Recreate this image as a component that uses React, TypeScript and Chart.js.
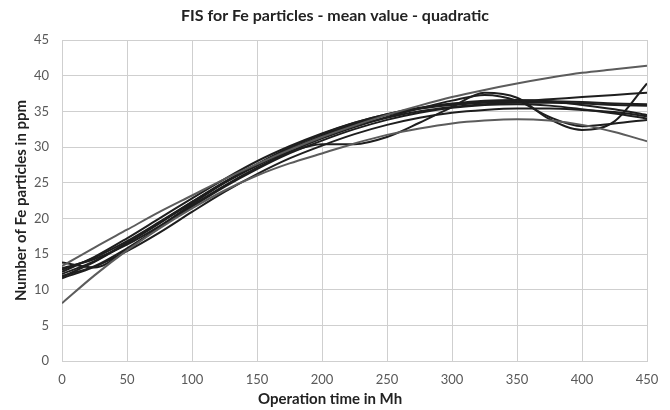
import { useEffect, useRef } from 'react';
import { Chart, registerables } from 'chart.js';

Chart.register(...registerables);

const TITLE = 'FIS for Fe particles - mean value - quadratic';
const X_TITLE = 'Operation time in Mh';
const Y_TITLE = 'Number of Fe particles in ppm';

const xValues = [0, 25, 50, 75, 100, 125, 150, 175, 200, 225, 250, 275, 300, 325, 350, 375, 400, 425, 450];

const seriesA = [13.3, 15.9, 18.4, 20.9, 23.2, 25.5, 27.6, 29.6, 31.4, 33.0, 34.5, 35.8, 37.0, 38.0, 38.9, 39.7, 40.4, 40.9, 41.4];
const seriesB = [8.1, 12.0, 15.5, 18.6, 21.4, 23.9, 26.0, 27.7, 29.1, 30.5, 31.7, 32.6, 33.3, 33.7, 33.9, 33.7, 33.1, 32.1, 30.8];
const seriesC = [13.8, 13.1, 15.6, 18.8, 22.0, 25.0, 27.5, 29.3, 30.4, 30.4, 31.4, 33.4, 35.6, 37.6, 36.9, 33.9, 32.4, 33.6, 38.9];
const seriesD = [13.0, 14.3, 16.3, 18.9, 21.8, 24.6, 27.1, 29.3, 31.2, 32.8, 34.2, 35.4, 36.5, 37.3, 36.5, 34.2, 32.9, 33.3, 33.8];
const seriesE = [12.2, 14.0, 16.6, 19.4, 22.3, 25.1, 27.6, 29.9, 31.8, 33.4, 34.6, 35.4, 35.9, 36.2, 36.4, 36.7, 37.0, 37.3, 37.6];
const seriesF = [12.8, 14.5, 16.8, 19.5, 22.3, 25.0, 27.5, 29.7, 31.6, 33.2, 34.5, 35.4, 36.0, 36.3, 36.4, 36.4, 36.3, 36.1, 36.0];
const seriesG = [11.8, 13.9, 16.5, 19.3, 22.2, 25.0, 27.4, 29.6, 31.4, 32.9, 34.1, 35.0, 35.6, 36.0, 36.2, 36.2, 36.1, 35.9, 35.8];
const seriesH = [12.5, 14.6, 17.2, 20.0, 22.8, 25.5, 28.0, 30.1, 31.9, 33.4, 34.6, 35.5, 36.1, 36.5, 36.6, 36.4, 35.9, 35.3, 34.5];
const seriesI = [11.9, 13.3, 15.8, 18.7, 21.6, 24.4, 26.9, 29.1, 30.9, 32.5, 33.8, 34.8, 35.5, 35.9, 36.0, 35.8, 35.3, 34.7, 34.0];
const seriesJ = [11.6, 13.2, 15.4, 18.0, 20.9, 23.7, 26.2, 28.4, 30.2, 31.8, 33.1, 34.1, 34.8, 35.2, 35.4, 35.4, 35.2, 34.9, 34.3];

const lightSeries = [seriesA, seriesB];
const darkSeries = [seriesC, seriesD, seriesE, seriesF, seriesG, seriesH, seriesI, seriesJ];

const FONT = 'Lato, "Open Sans", sans-serif';

const titlePlugin = {
  id: 'topTitles',
  afterDraw(chart: any) {
    const { ctx } = chart;
    ctx.save();
    ctx.fillStyle = '#222222';
    ctx.textAlign = 'center';
    ctx.textBaseline = 'middle';
    ctx.font = `bold 16px ${FONT}`;
    ctx.fillText(TITLE, 335, 16);
    ctx.font = `bold 15px ${FONT}`;
    ctx.fillText(X_TITLE, 330, 399);
    ctx.restore();
  },
};

function toPoints(ys: number[]) {
  return ys.map((y, i) => ({ x: xValues[i], y }));
}

export default function App() {
  const canvasRef = useRef<HTMLCanvasElement | null>(null);

  useEffect(() => {
    document.body.style.margin = '0';
    const canvas = canvasRef.current;
    if (!canvas) return;
    const mk = (ys: number[], color: string) => ({
      data: toPoints(ys),
      borderColor: color,
      backgroundColor: color,
      borderWidth: 2,
      pointRadius: 0,
      fill: false,
      cubicInterpolationMode: 'monotone' as const,
    });
    const datasets = [
      ...lightSeries.map((s) => mk(s, '#5c5c5c')),
      ...darkSeries.map((s) => mk(s, '#1e1e1e')),
    ];
    const grid = '#cfcfcf';
    const chart = new Chart(canvas, {
      type: 'line',
      data: { datasets },
      plugins: [titlePlugin],
      options: {
        animation: false,
        responsive: false,
        layout: { padding: { top: 40, right: 23, bottom: 0, left: 0 } },
        plugins: { legend: { display: false }, tooltip: { enabled: false }, title: { display: false } },
        scales: {
          x: {
            type: 'linear',
            min: 0,
            max: 450,
            ticks: { stepSize: 50, color: '#595959', font: { family: FONT, size: 13 }, padding: 11, maxRotation: 0 },
            grid: { color: grid, drawTicks: false, lineWidth: 1 },
            border: { color: grid },
            title: { display: false },
            afterFit: (s: any) => { s.height = 49; },
          },
          y: {
            type: 'linear',
            min: 0,
            max: 45,
            ticks: { stepSize: 5, color: '#595959', font: { family: FONT, size: 13 }, padding: 13 },
            grid: { color: grid, drawTicks: false, lineWidth: 1 },
            border: { color: grid },
            title: { display: true, text: Y_TITLE, color: '#222222', font: { family: FONT, size: 15, weight: 'bold' }, padding: { top: 12, bottom: 0 } },
            afterFit: (s: any) => { s.width = 62; },
          },
        },
      },
    });
    return () => chart.destroy();
  }, []);

  return (
    <div style={{ position: 'absolute', left: 0, top: 0, width: 670, height: 410, background: '#fff' }}>
      <canvas ref={canvasRef} width={670} height={410} />
    </div>
  );
}
